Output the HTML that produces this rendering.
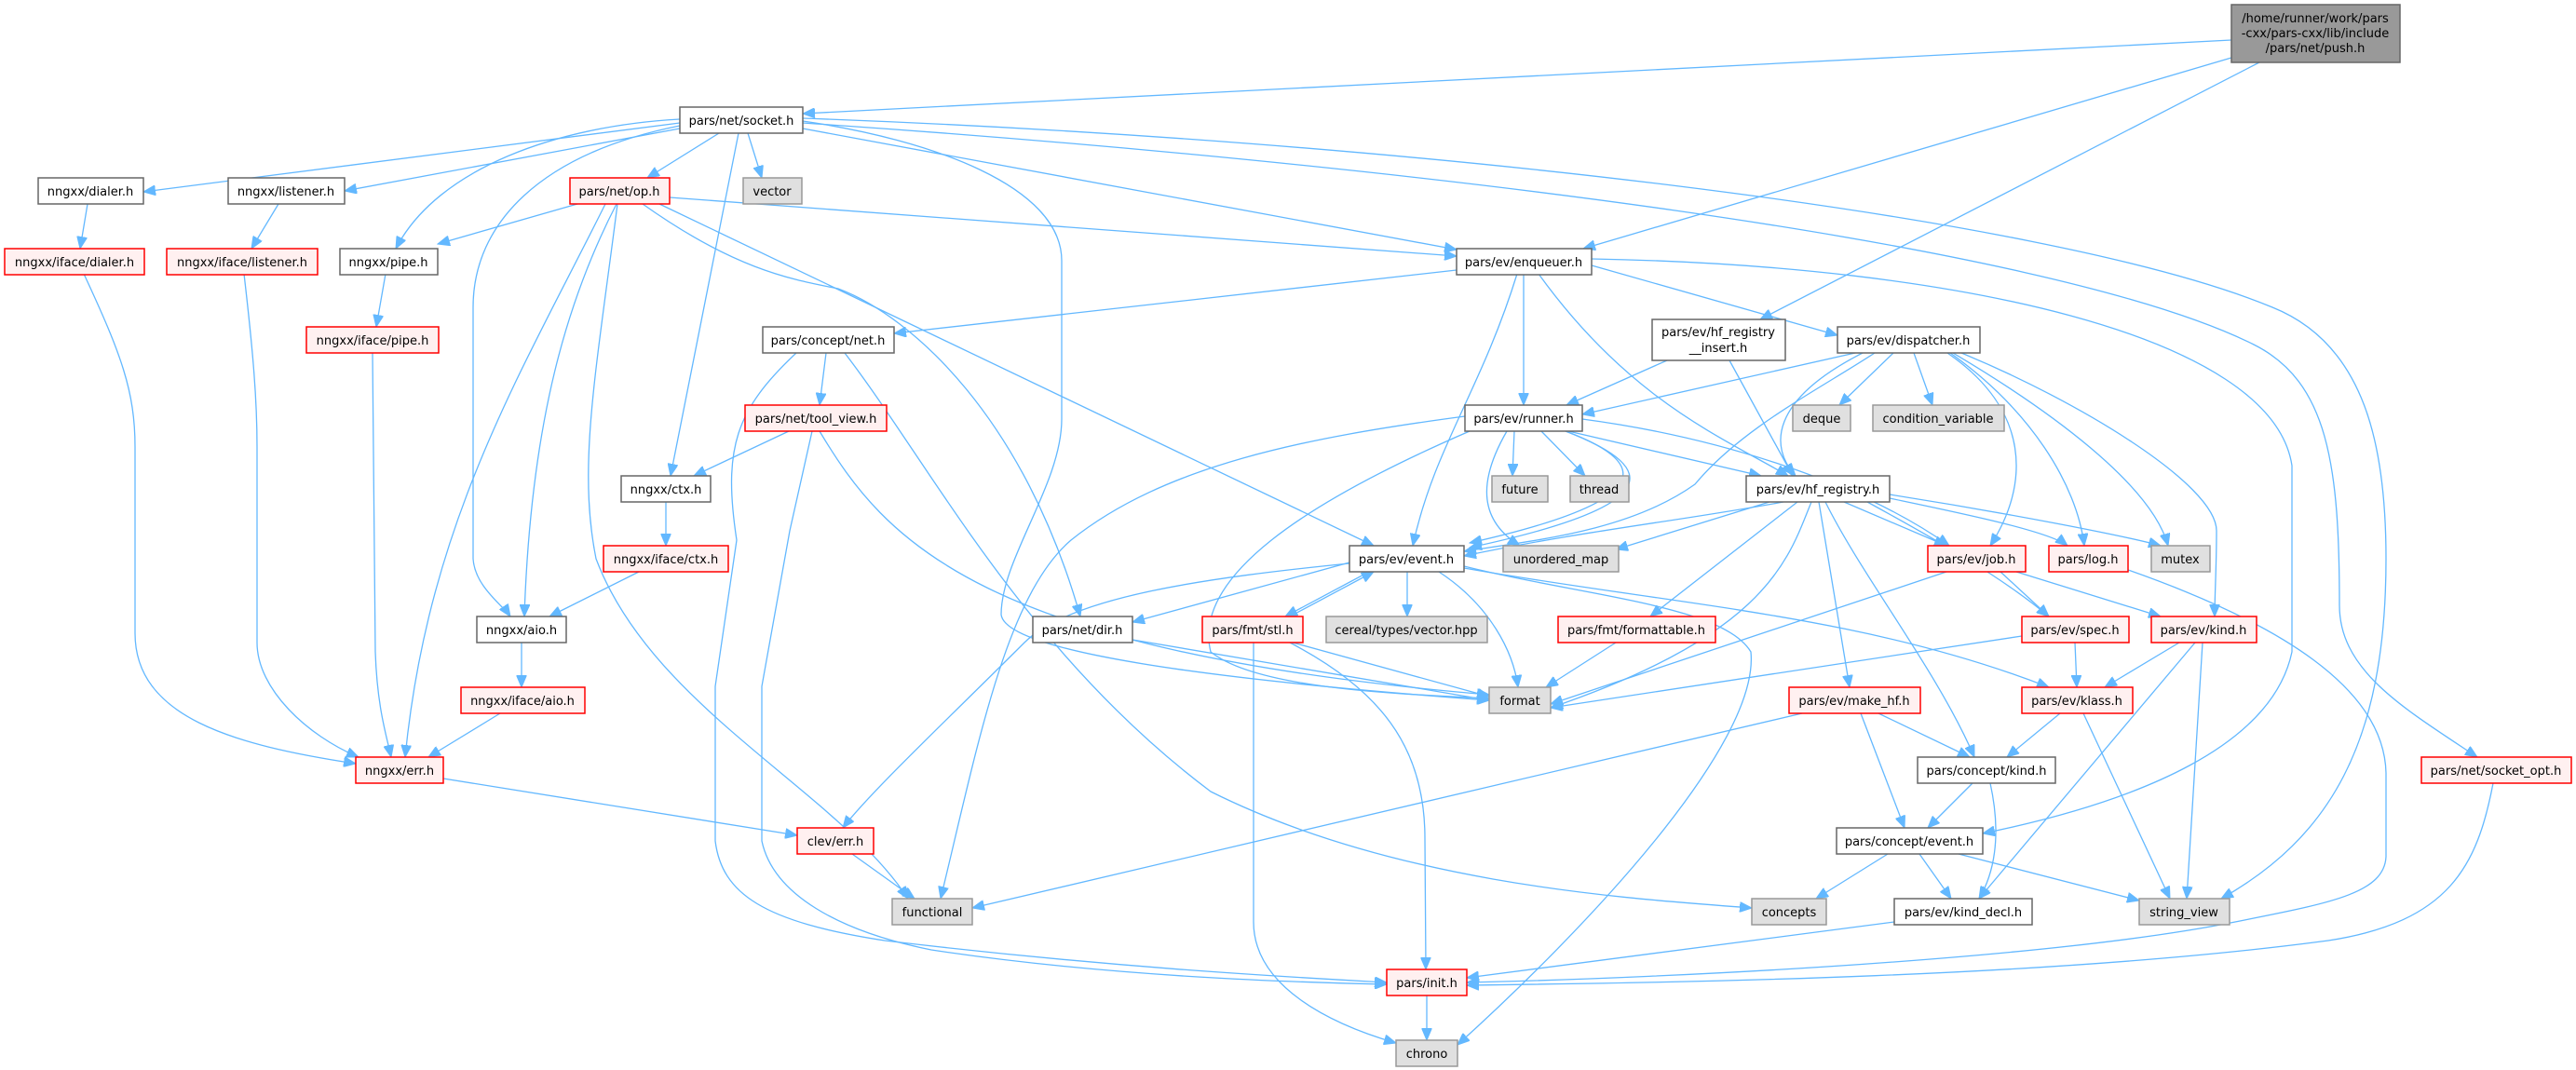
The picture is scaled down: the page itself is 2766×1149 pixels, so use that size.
<!DOCTYPE html>
<html><head><meta charset="utf-8"><style>
html,body{margin:0;padding:0;background:#fff;}
svg{display:block;}
text{font-family:"DejaVu Sans","Liberation Sans",sans-serif;font-size:13px;fill:#000;}
.e{fill:none;stroke:#63b8ff;stroke-width:1.3;}
.w{fill:#fff;stroke:#666;stroke-width:1.5;}
.r{fill:#fff0f0;stroke:#ff0000;stroke-width:1.5;}
.g{fill:#e0e0e0;stroke:#999;stroke-width:1.5;}
.k{fill:#999;stroke:#666;stroke-width:1.5;}
</style></head><body>
<svg width="2766" height="1149" viewBox="0 0 2766 1149" xmlns="http://www.w3.org/2000/svg">
<defs><marker id="a" markerUnits="userSpaceOnUse" markerWidth="14" markerHeight="11" refX="13" refY="5.5" orient="auto"><path d="M0,0 L13,5.5 L0,11 z" fill="#63b8ff" stroke="#63b8ff"/></marker></defs>
<g marker-end="url(#a)">
<!-- root -->
<path class="e" d="M2396,43 L862,122"/>
<path class="e" d="M2396,62 L1700,267"/>
<path class="e" d="M2426,67 L1890,343"/>
<!-- socket -->
<path class="e" d="M730,132 L154,206"/>
<path class="e" d="M730,138 L370,205"/>
<path class="e" d="M772,143 L695,191"/>
<path class="e" d="M803,143 L818,191"/>
<path class="e" d="M730,128 C600,135 470,180 425,267"/>
<path class="e" d="M730,135 C580,165 508,240 508,330 L508,600 C510,630 540,650 548,662"/>
<path class="e" d="M793,143 L720,511"/>
<path class="e" d="M862,138 L1564,268"/>
<path class="e" d="M862,130 C1000,150 1140,200 1140,280 L1140,450 C1140,520 1075,600 1075,660 C1080,700 1300,730 1599,752"/>
<path class="e" d="M862,132 C1500,175 2200,260 2420,370 C2500,410 2512,500 2512,650 C2512,720 2580,760 2660,813"/>
<path class="e" d="M862,127 C1500,150 2200,230 2440,330 C2540,370 2562,480 2562,600 C2562,800 2500,900 2385,965"/>
<!-- op -->
<path class="e" d="M620,219 L470,262"/>
<path class="e" d="M662,219 C610,320 570,450 563,662"/>
<path class="e" d="M650,219 C560,400 460,560 435,813"/>
<path class="e" d="M663,219 C640,400 620,500 640,600 C700,760 900,850 975,965"/>
<path class="e" d="M719,212 L1564,275"/>
<path class="e" d="M708,219 L1475,586"/>
<path class="e" d="M690,219 C790,290 850,300 900,310 C980,340 1100,450 1160,662"/>
<!-- left column -->
<path class="e" d="M94,219 L86,267"/>
<path class="e" d="M299,219 L270,267"/>
<path class="e" d="M414,294 L404,351"/>
<path class="e" d="M90,294 C130,380 145,420 145,480 L145,680 C145,770 250,800 382,820"/>
<path class="e" d="M262,294 C272,380 276,430 276,480 L276,690 C276,740 330,790 385,813"/>
<path class="e" d="M400,379 L403,700 C405,760 415,790 420,813"/>
<path class="e" d="M715,539 L715,586"/>
<path class="e" d="M686,614 L590,662"/>
<path class="e" d="M560,690 L560,738"/>
<path class="e" d="M537,766 L460,813"/>
<path class="e" d="M476,836 L856,897"/>
<path class="e" d="M915,917 L982,965"/>
<!-- concept/net, tool_view -->
<path class="e" d="M855,379 C790,440 776,481 791,580 L768,737 L768,903 C775,960 820,990 950,1010 C1200,1040 1400,1050 1489,1055"/>
<path class="e" d="M887,379 L880,435"/>
<path class="e" d="M907,379 C1000,500 1100,700 1300,850 C1500,950 1750,965 1881,975"/>
<path class="e" d="M847,463 L745,511"/>
<path class="e" d="M872,463 L848,570 L818,737 L818,903 C830,960 900,1000 1000,1020 C1200,1050 1400,1055 1489,1057"/>
<path class="e" d="M880,463 C950,580 1050,700 1599,746"/>
<!-- enqueuer -->
<path class="e" d="M1564,290 L960,358"/>
<path class="e" d="M1636,294 L1636,435"/>
<path class="e" d="M1629,294 C1590,420 1540,480 1517,586"/>
<path class="e" d="M1709,285 L1973,360"/>
<path class="e" d="M1652,294 C1750,430 1850,470 1920,511"/>
<path class="e" d="M1709,278 C2100,285 2440,360 2461,500 L2461,700 C2440,800 2300,860 2129,895"/>
<!-- hf_insert -->
<path class="e" d="M1790,387 L1682,435"/>
<path class="e" d="M1857,387 L1925,511"/>
<!-- dispatcher -->
<path class="e" d="M1992,379 L1699,445"/>
<path class="e" d="M2013,379 C1950,420 1870,460 1820,520 C1750,570 1650,580 1572,592"/>
<path class="e" d="M2000,379 C1900,430 1900,480 1928,511"/>
<path class="e" d="M2033,379 L1975,435"/>
<path class="e" d="M2055,379 L2075,435"/>
<path class="e" d="M2091,379 C2180,440 2180,520 2137,586"/>
<path class="e" d="M2094,379 C2180,440 2230,520 2238,586"/>
<path class="e" d="M2097,379 C2200,440 2310,520 2328,586"/>
<path class="e" d="M2106,379 C2230,430 2380,520 2380,570 C2380,610 2378,640 2378,662"/>
<!-- runner -->
<path class="e" d="M1626,463 L1624,511"/>
<path class="e" d="M1655,463 L1702,511"/>
<path class="e" d="M1681,463 C1780,500 1770,540 1578,583"/>
<path class="e" d="M1681,463 C1790,505 1780,545 1578,588"/>
<path class="e" d="M1618,463 C1585,520 1590,560 1632,586"/>
<path class="e" d="M1684,463 L1891,511"/>
<path class="e" d="M1699,450 C1850,470 2000,520 2093,586"/>
<path class="e" d="M1573,447 C1400,470 1250,500 1150,580 C1080,640 1050,800 1010,965"/>
<path class="e" d="M1578,463 C1400,540 1280,620 1300,700 C1350,740 1500,745 1599,750"/>
<!-- hf_registry -->
<path class="e" d="M1900,539 L1735,590"/>
<path class="e" d="M1915,539 C1800,560 1700,570 1572,597"/>
<path class="e" d="M1930,539 L1772,662"/>
<path class="e" d="M1945,539 C1920,600 1900,680 1665,760"/>
<path class="e" d="M1953,539 L1986,738"/>
<path class="e" d="M1960,539 C2000,620 2080,720 2120,813"/>
<path class="e" d="M1980,539 L2090,586"/>
<path class="e" d="M2005,539 C2080,580 2150,620 2200,662"/>
<path class="e" d="M2029,535 C2100,550 2200,570 2220,586"/>
<path class="e" d="M2029,531 C2150,550 2280,575 2320,586"/>
<!-- event.h -->
<path class="e" d="M1449,604 L1216,668"/>
<path class="e" d="M1470,614 L1380,662"/>
<path class="e" d="M1385,662 L1475,614"/>
<path class="e" d="M1511,614 L1511,662"/>
<path class="e" d="M1545,614 C1600,650 1625,700 1630,738"/>
<path class="e" d="M1449,605 C1300,620 1150,640 1100,690 C1020,770 935,850 905,889"/>
<path class="e" d="M1572,608 C1700,640 1850,650 1880,700 C1890,800 1700,1000 1565,1122"/>
<path class="e" d="M1572,610 C1800,650 2000,660 2200,738"/>
<!-- stl -->
<path class="e" d="M1388,690 L1599,748"/>
<path class="e" d="M1385,690 C1480,740 1530,800 1530,900 L1531,1041"/>
<path class="e" d="M1346,690 L1346,990 C1346,1060 1430,1100 1499,1120"/>
<path class="e" d="M1216,687 L1599,752"/>
<path class="e" d="M1735,690 L1660,738"/>
<!-- job, spec, kind, klass -->
<path class="e" d="M2090,614 L1665,756"/>
<path class="e" d="M2148,614 L2200,662"/>
<path class="e" d="M2165,614 L2320,662"/>
<path class="e" d="M2171,683 L1665,760"/>
<path class="e" d="M2228,690 L2230,738"/>
<path class="e" d="M2340,690 L2260,738"/>
<path class="e" d="M2357,690 L2125,965"/>
<path class="e" d="M2365,690 L2348,965"/>
<path class="e" d="M2212,766 L2155,813"/>
<path class="e" d="M2237,766 L2330,965"/>
<!-- make_hf, concepts -->
<path class="e" d="M2017,766 L2115,813"/>
<path class="e" d="M1998,766 L2045,889"/>
<path class="e" d="M1935,766 L1044,975"/>
<path class="e" d="M2118,841 L2070,889"/>
<path class="e" d="M2137,841 C2150,900 2140,940 2125,965"/>
<path class="e" d="M2027,917 L1950,965"/>
<path class="e" d="M2061,917 L2095,965"/>
<path class="e" d="M2103,917 L2297,967"/>
<path class="e" d="M2034,990 L1575,1050"/>
<path class="e" d="M1532,1069 L1532,1117"/>
<!-- log, socket_opt -> init -->
<path class="e" d="M2285,612 C2450,670 2560,740 2562,830 L2562,920 C2560,960 2500,970 2400,990 C2200,1030 1800,1050 1575,1055"/>
<path class="e" d="M2677,841 C2660,930 2630,990 2500,1010 C2200,1050 1800,1055 1575,1058"/>
</g>
<!-- nodes -->
<g>
<rect class="k" x="2396" y="5" width="181" height="62"/>
<text x="2486" y="24" text-anchor="middle">/home/runner/work/pars</text>
<text x="2486" y="40" text-anchor="middle">-cxx/pars-cxx/lib/include</text>
<text x="2486" y="56" text-anchor="middle">/pars/net/push.h</text>

<rect class="w" x="730" y="115" width="132" height="28"/><text x="796" y="134" text-anchor="middle">pars/net/socket.h</text>
<rect class="w" x="41" y="191" width="113" height="28"/><text x="97" y="210" text-anchor="middle">nngxx/dialer.h</text>
<rect class="w" x="245" y="191" width="125" height="28"/><text x="307" y="210" text-anchor="middle">nngxx/listener.h</text>
<rect class="r" x="612" y="191" width="107" height="28"/><text x="665" y="210" text-anchor="middle">pars/net/op.h</text>
<rect class="g" x="798" y="191" width="63" height="28"/><text x="829" y="210" text-anchor="middle">vector</text>
<rect class="r" x="5" y="267" width="150" height="28"/><text x="80" y="286" text-anchor="middle">nngxx/iface/dialer.h</text>
<rect class="r" x="179" y="267" width="162" height="28"/><text x="260" y="286" text-anchor="middle">nngxx/iface/listener.h</text>
<rect class="w" x="365" y="267" width="105" height="28"/><text x="417" y="286" text-anchor="middle">nngxx/pipe.h</text>
<rect class="w" x="1564" y="267" width="145" height="28"/><text x="1636" y="286" text-anchor="middle">pars/ev/enqueuer.h</text>
<rect class="r" x="329" y="351" width="142" height="28"/><text x="400" y="370" text-anchor="middle">nngxx/iface/pipe.h</text>
<rect class="w" x="819" y="351" width="141" height="28"/><text x="889" y="370" text-anchor="middle">pars/concept/net.h</text>
<rect class="w" x="1774" y="343" width="143" height="44"/><text x="1845" y="361" text-anchor="middle">pars/ev/hf_registry</text><text x="1845" y="378" text-anchor="middle">__insert.h</text>
<rect class="w" x="1973" y="351" width="153" height="28"/><text x="2049" y="370" text-anchor="middle">pars/ev/dispatcher.h</text>
<rect class="r" x="800" y="435" width="152" height="28"/><text x="876" y="454" text-anchor="middle">pars/net/tool_view.h</text>
<rect class="w" x="1573" y="435" width="126" height="28"/><text x="1636" y="454" text-anchor="middle">pars/ev/runner.h</text>
<rect class="w" x="667" y="511" width="96" height="28"/><text x="715" y="530" text-anchor="middle">nngxx/ctx.h</text>
<rect class="g" x="1602" y="511" width="60" height="28"/><text x="1632" y="530" text-anchor="middle">future</text>
<rect class="g" x="1686" y="511" width="63" height="28"/><text x="1717" y="530" text-anchor="middle">thread</text>
<rect class="g" x="1925" y="435" width="62" height="28"/><text x="1956" y="454" text-anchor="middle">deque</text>
<rect class="g" x="2011" y="435" width="141" height="28"/><text x="2081" y="454" text-anchor="middle">condition_variable</text>
<rect class="w" x="1875" y="511" width="154" height="28"/><text x="1952" y="530" text-anchor="middle">pars/ev/hf_registry.h</text>
<rect class="r" x="648" y="586" width="134" height="28"/><text x="715" y="605" text-anchor="middle">nngxx/iface/ctx.h</text>
<rect class="w" x="1449" y="586" width="123" height="28"/><text x="1510" y="605" text-anchor="middle">pars/ev/event.h</text>
<rect class="g" x="1614" y="586" width="124" height="28"/><text x="1676" y="605" text-anchor="middle">unordered_map</text>
<rect class="r" x="2070" y="586" width="105" height="28"/><text x="2122" y="605" text-anchor="middle">pars/ev/job.h</text>
<rect class="r" x="2200" y="586" width="85" height="28"/><text x="2242" y="605" text-anchor="middle">pars/log.h</text>
<rect class="g" x="2310" y="586" width="63" height="28"/><text x="2341" y="605" text-anchor="middle">mutex</text>
<rect class="w" x="512" y="662" width="96" height="28"/><text x="560" y="681" text-anchor="middle">nngxx/aio.h</text>
<rect class="w" x="1109" y="662" width="107" height="28"/><text x="1162" y="681" text-anchor="middle">pars/net/dir.h</text>
<rect class="r" x="1291" y="662" width="108" height="28"/><text x="1345" y="681" text-anchor="middle">pars/fmt/stl.h</text>
<rect class="g" x="1424" y="662" width="173" height="28"/><text x="1510" y="681" text-anchor="middle">cereal/types/vector.hpp</text>
<rect class="r" x="1673" y="662" width="169" height="28"/><text x="1757" y="681" text-anchor="middle">pars/fmt/formattable.h</text>
<rect class="r" x="2171" y="662" width="115" height="28"/><text x="2228" y="681" text-anchor="middle">pars/ev/spec.h</text>
<rect class="r" x="2310" y="662" width="113" height="28"/><text x="2366" y="681" text-anchor="middle">pars/ev/kind.h</text>
<rect class="r" x="495" y="738" width="133" height="28"/><text x="561" y="757" text-anchor="middle">nngxx/iface/aio.h</text>
<rect class="g" x="1599" y="738" width="66" height="28"/><text x="1632" y="757" text-anchor="middle">format</text>
<rect class="r" x="1921" y="738" width="141" height="28"/><text x="1991" y="757" text-anchor="middle">pars/ev/make_hf.h</text>
<rect class="r" x="2171" y="738" width="119" height="28"/><text x="2230" y="757" text-anchor="middle">pars/ev/klass.h</text>
<rect class="r" x="382" y="813" width="94" height="28"/><text x="429" y="832" text-anchor="middle">nngxx/err.h</text>
<rect class="w" x="2059" y="813" width="148" height="28"/><text x="2133" y="832" text-anchor="middle">pars/concept/kind.h</text>
<rect class="r" x="2600" y="813" width="161" height="28"/><text x="2680" y="832" text-anchor="middle">pars/net/socket_opt.h</text>
<rect class="r" x="856" y="889" width="82" height="28"/><text x="897" y="908" text-anchor="middle">clev/err.h</text>
<rect class="w" x="1972" y="889" width="157" height="28"/><text x="2050" y="908" text-anchor="middle">pars/concept/event.h</text>
<rect class="g" x="958" y="965" width="86" height="28"/><text x="1001" y="984" text-anchor="middle">functional</text>
<rect class="g" x="1881" y="965" width="80" height="28"/><text x="1921" y="984" text-anchor="middle">concepts</text>
<rect class="w" x="2034" y="965" width="148" height="28"/><text x="2108" y="984" text-anchor="middle">pars/ev/kind_decl.h</text>
<rect class="g" x="2297" y="965" width="97" height="28"/><text x="2345" y="984" text-anchor="middle">string_view</text>
<rect class="r" x="1489" y="1041" width="86" height="28"/><text x="1532" y="1060" text-anchor="middle">pars/init.h</text>
<rect class="g" x="1499" y="1117" width="66" height="28"/><text x="1532" y="1136" text-anchor="middle">chrono</text>
</g>
</svg>
</body></html>
